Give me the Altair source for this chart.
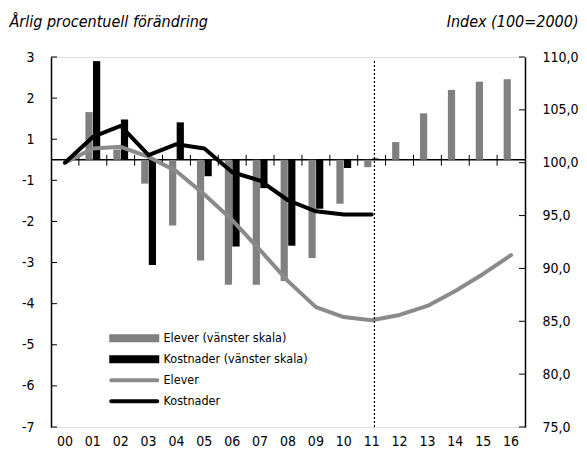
import altair as alt
import pandas as pd

# ---------------- data ----------------
years = ["00", "01", "02", "03", "04", "05", "06", "07", "08",
         "09", "10", "11", "12", "13", "14", "15", "16"]
elever_pct = [None, 1.66, 0.50, -1.08, -2.10, -2.95, -3.54, -3.54, -3.45,
              -2.89, -1.57, -0.36, 0.86, 1.63, 2.20, 2.40, 2.46]
kostnader_pct = [None, 2.90, 1.48, -3.06, 1.41, -0.80, -2.61, -1.19, -2.59,
                 -1.69, -0.40, 0.06, None, None, None, None, None]
elever_idx = [100.0, 101.34, 101.5, 100.55, 99.2, 97.0, 94.57, 91.73, 88.8,
              86.34, 85.4, 85.1, 85.6, 86.45, 87.87, 89.48, 91.26]
kostnader_idx = [100.0, 102.44, 103.48, 100.71, 101.75, 101.34, 99.1, 98.3, 96.45,
                 95.4, 95.1, 95.1, None, None, None, None, None]
left_ticks = [3, 2, 1, -1, -2, -3, -4, -5, -6, -7]
right_ticks = [75, 80, 85, 90, 95, 100, 105, 110]
bar_series = ["Elever (vänster skala)", "Kostnader (vänster skala)"]
line_series = ["Elever", "Kostnader"]
left_title = "Årlig procentuell förändring"
right_title = "Index (100=2000)"
forecast_start = "11"

# ---------------- styling ----------------
W, H = 474, 370
FONT = "Liberation Sans Narrow, DejaVu Sans Condensed, Roboto, sans-serif"
GRAY = "#808080"
GRAY_LINE = "#8a8a8a"
BLACK = "#000000"

rows = []
for y, e, k in zip(years, elever_pct, kostnader_pct):
    if e is not None:
        rows.append({"year": y, "series": bar_series[0], "value": e})
    if k is not None:
        rows.append({"year": y, "series": bar_series[1], "value": k})
bars_df = pd.DataFrame(rows)

rows = []
for y, e, k in zip(years, elever_idx, kostnader_idx):
    if e is not None:
        rows.append({"year": y, "series": line_series[0], "value": e})
    if k is not None:
        rows.append({"year": y, "series": line_series[1], "value": k})
lines_df = pd.DataFrame(rows)

all_series = bar_series + line_series

x_scale = alt.Scale(domain=years, paddingInner=0, paddingOuter=0)
x_axis = alt.Axis(title=None, ticks=False, domain=False, labelFont=FONT,
                  labelFontSize=14, labelPadding=7, labelColor="black",
                  labelAngle=0)

left_scale = alt.Scale(domain=[-7, -1, 1, 3], range=[H, H / 3, 2 * H / 9, 0],
                       nice=False, zero=False)
left_axis = alt.Axis(values=left_ticks, labelExpr="'' + datum.value",
                     title=left_title, titleAngle=0, titleAlign="left",
                     titleBaseline="alphabetic", titleX=-42, titleY=-31,
                     titleFont=FONT, titleFontSize=16, titleFontStyle="italic",
                     titleFontWeight="normal", titleColor="black",
                     ticks=False, domain=True, domainColor="black",
                     domainWidth=1.5, labelPadding=17, grid=False,
                     labelFont=FONT, labelFontSize=14, labelColor="black")

right_scale = alt.Scale(domain=[75, 110], nice=False, zero=False)
right_axis = alt.Axis(orient="right", values=right_ticks,
                      labelExpr="replace(format(datum.value, '.1f'), '.', ',')",
                      title=right_title, titleAngle=0, titleAlign="right",
                      titleBaseline="alphabetic", titleX=53, titleY=-31,
                      titleFont=FONT, titleFontSize=16, titleFontStyle="italic",
                      titleFontWeight="normal", titleColor="black",
                      ticks=False, domain=True, domainColor="black",
                      domainWidth=1.5, labelPadding=17, grid=False,
                      labelFont=FONT, labelFontSize=14, labelColor="black")

# ---------------- left group ----------------
bars = alt.Chart(bars_df).mark_bar().encode(
    x=alt.X("year:N", scale=x_scale, axis=x_axis),
    xOffset=alt.XOffset("series:N", scale=alt.Scale(domain=bar_series,
                                                    paddingOuter=0.86,
                                                    paddingInner=0.05)),
    y=alt.Y("value:Q", scale=left_scale, axis=left_axis, stack=None),
    fill=alt.Fill("series:N", scale=alt.Scale(domain=bar_series, range=[GRAY, BLACK]),
                  legend=None),
)

zero_line = alt.Chart(pd.DataFrame({"v": [0]})).mark_rule(
    color=BLACK, strokeWidth=1.4
).encode(y=alt.Y("v:Q", scale=left_scale, axis=left_axis))

left_tick_marks = alt.Chart(pd.DataFrame({"v": left_ticks})).mark_rule(
    color=BLACK, strokeWidth=1
).encode(y=alt.Y("v:Q", scale=left_scale, axis=left_axis),
         x=alt.value(0), x2=alt.value(6))

x_tick_marks = alt.Chart(pd.DataFrame({"year": years[1:]})).mark_rule(
    color=BLACK, strokeWidth=1
).encode(x=alt.X("year:N", bandPosition=0, scale=x_scale, axis=x_axis),
         y=alt.Y("hi:Q", scale=left_scale, axis=left_axis),
         y2="lo:Q").transform_calculate(hi="0.24", lo="-0.29")

left_group = alt.layer(zero_line, bars, x_tick_marks, left_tick_marks)

# ---------------- right group ----------------
lines = alt.Chart(lines_df).mark_line(
    strokeWidth=4, strokeCap="round", strokeJoin="round"
).encode(
    x=alt.X("year:N", scale=x_scale, axis=x_axis),
    y=alt.Y("value:Q", scale=right_scale, axis=right_axis),
    stroke=alt.Stroke("series:N",
                      scale=alt.Scale(domain=line_series, range=[GRAY_LINE, BLACK]),
                      legend=None),
    order=alt.Order("series:N"),
)

right_tick_marks = alt.Chart(pd.DataFrame({"v": right_ticks})).mark_rule(
    color=BLACK, strokeWidth=1
).encode(y=alt.Y("v:Q", scale=right_scale, axis=right_axis),
         x=alt.value(W - 6), x2=alt.value(W))

divider = alt.Chart(pd.DataFrame({"year": [forecast_start]})).mark_rule(
    color=BLACK, strokeWidth=1.2, strokeDash=[2, 2]
).encode(x=alt.X("year:N", bandPosition=0.6, scale=x_scale, axis=x_axis),
         y=alt.value(4), y2=alt.value(H))

rect_path = "M-1,-0.8H9V0.8H-1Z"
line_path = "M-0.6,-0.4H8.6A0.4,0.4 0 0 1 8.6,0.4H-0.6A0.4,0.4 0 0 1 -0.6,-0.4Z"
legend_cfg = alt.Legend(orient="none", legendX=57, legendY=275, title=None,
                        labelFont=FONT, labelFontSize=12.5, labelColor="black",
                        labelLimit=400,
                        symbolSize=100, symbolStrokeWidth=0, labelOffset=43,
                        rowPadding=8, symbolOpacity=1)
legend_layer = alt.Chart(pd.DataFrame({"series": all_series})).mark_point(
    filled=True, opacity=0, size=100
).encode(
    color=alt.Color("series:N",
                    scale=alt.Scale(domain=all_series,
                                    range=[GRAY, BLACK, GRAY_LINE, BLACK]),
                    legend=legend_cfg),
    shape=alt.Shape("series:N",
                    scale=alt.Scale(domain=all_series,
                                    range=[rect_path, rect_path, line_path, line_path]),
                    legend=legend_cfg),
)

right_group = alt.layer(lines, right_tick_marks, divider, legend_layer)

chart = alt.layer(left_group, right_group).resolve_scale(
    y="independent"
).properties(
    width=W, height=H,
    autosize=alt.AutoSizeParams(type="none"),
    padding={"left": 43, "top": 49, "right": 54, "bottom": 21},
).configure_view(
    stroke="#8a8a8a", strokeWidth=1.5
).configure(background="white")

chart.save("out.html", embed_options={"renderer": "svg", "actions": False})
